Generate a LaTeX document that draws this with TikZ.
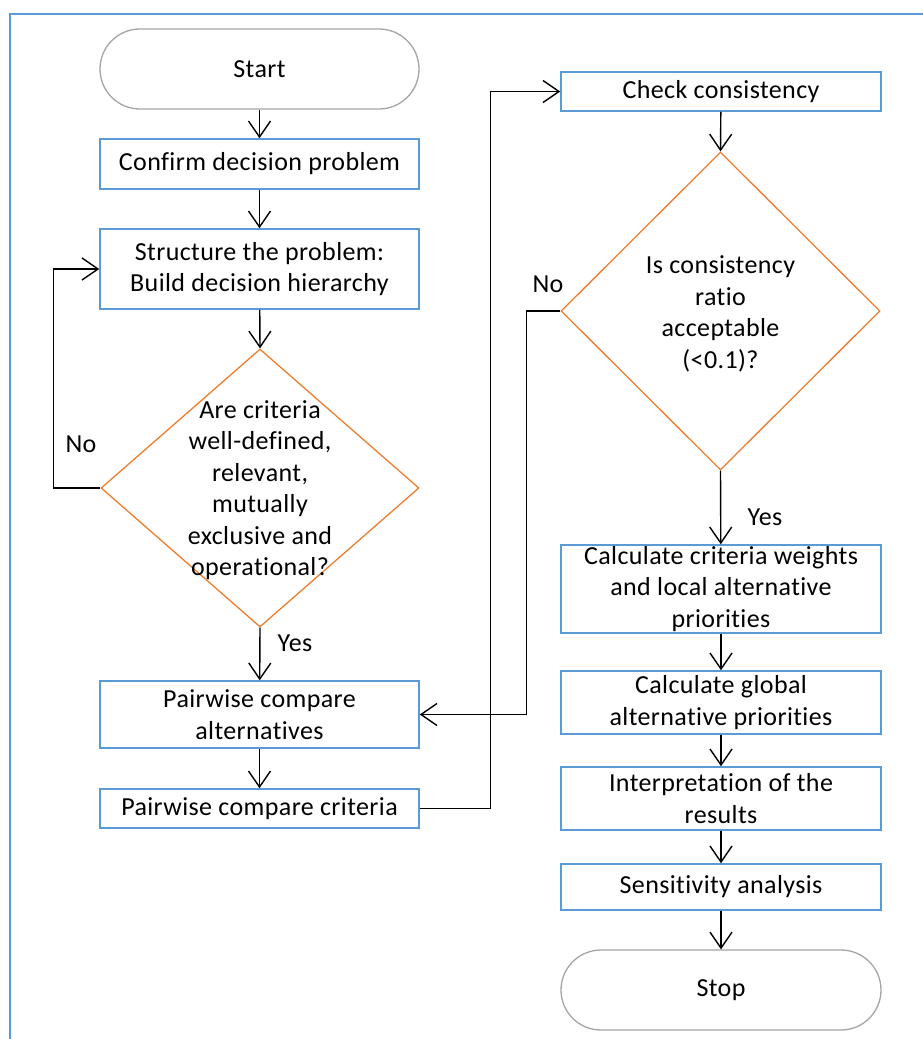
\documentclass[tikz,border=0pt]{standalone}
\usepackage{fontspec}
\setmainfont{Carlito}[LetterSpace=1.5, Ligatures={NoCommon,NoDiscretionary,NoContextual}]
\usetikzlibrary{shapes.geometric,arrows.meta}
\definecolor{boxblue}{HTML}{5B9BD5}
\definecolor{decorange}{HTML}{ED7D31}
\definecolor{termgray}{HTML}{A5A5A5}
\begin{document}
\begin{tikzpicture}[x=1pt,y=-1pt,
  every node/.style={font=\fontsize{26}{31.5}\selectfont, align=center, inner sep=0pt},
  procbox/.style={draw=boxblue, line width=1.5pt, rectangle, minimum width=319pt},
  termbox/.style={draw=termgray, line width=1.3pt, rectangle, rounded corners=40pt,
    minimum width=319pt, minimum height=80pt},
  decbox/.style={draw=decorange, line width=1.3pt, diamond},
  arr/.style={draw=black, line width=1.4pt,
    -{Straight Barb[length=16pt,width=22pt,line width=1.4pt]}}]
\useasboundingbox (0,0) rectangle (923,1039);
% page frame
\draw[boxblue, line width=1.5pt] (10,1039) -- (10,14) -- (923,14);

% left column
\node[termbox] (start) at (259.5,69) {Start};
\node[procbox, minimum height=50pt] (confirm) at (259.5,164) {Confirm decision problem};
\node[procbox, minimum height=80pt] (struct) at (259.5,269) {Structure the problem:\\Build decision hierarchy};
\node[decbox, minimum width=318pt, minimum height=278pt] (crit) at (260,488) {};
\node (crittext) at (260,490) {Are criteria\\well-defined,\\relevant,\\mutually\\exclusive and\\operational?};
\node[procbox, minimum height=67pt] (pca) at (259.5,714.5) {Pairwise compare\\alternatives};
\node[procbox, minimum height=39pt] (pcc) at (259.5,808.5) {Pairwise compare criteria};

% right column
\node[procbox, minimum height=39pt, minimum width=320pt] (check) at (721,91.5) {Check consistency};
\node[decbox, minimum width=319pt, minimum height=318pt] (cr) at (720.5,311) {};
\node (crtext) at (720.5,314) {Is consistency\\ratio\\acceptable\\(<0.1)?};
\node[procbox, minimum height=88pt, minimum width=320pt] (calc) at (721,589) {Calculate criteria weights\\and local alternative\\priorities};
\node[procbox, minimum height=63pt, minimum width=320pt] (global) at (721,702.5) {Calculate global\\alternative priorities};
\node[procbox, minimum height=63pt, minimum width=320pt] (interp) at (721,798.5) {Interpretation of the\\results};
\node[procbox, minimum height=46pt, minimum width=320pt] (sens) at (721,887) {Sensitivity analysis};
\node[termbox, minimum width=320pt] (stop) at (721,990) {Stop};

% branch labels
\node (no1) at (81,444) {No};
\node (yes1) at (295,643) {Yes};
\node (no2) at (548,284) {No};
\node (yes2) at (765,517) {Yes};

% connectors
\draw[arr] (start) -- (confirm);
\draw[arr] (confirm) -- (struct);
\draw[arr] (struct) -- (crit.north);
\draw[arr] (crit.south) -- (pca);
\draw[arr] (crit.west) -- ++(-47,0) |- (struct.west);
\draw[arr] (pca) -- (pcc);
\draw[arr] (pcc.east) -- ++(71,0) |- (check.west);
\draw[arr] (check) -- (cr.north);
\draw[arr] (cr.west) -- ++(-34,0) |- (pca.east);
\draw[arr] (cr.south) -- (calc);
\draw[arr] (calc) -- (global);
\draw[arr] (global) -- (interp);
\draw[arr] (interp) -- (sens);
\draw[arr] (sens) -- (stop);
\end{tikzpicture}
\end{document}
